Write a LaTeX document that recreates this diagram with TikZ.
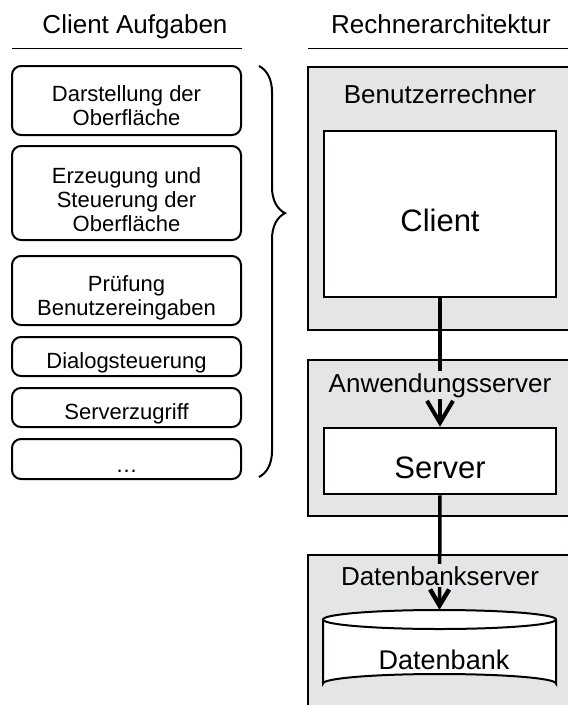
\documentclass[tikz,border=0pt]{standalone}
\usepackage{fontspec}
\setmainfont{Liberation Sans}
\usetikzlibrary{arrows.meta,decorations.pathreplacing}
\definecolor{boxgray}{RGB}{228,229,231}
\begin{document}
\begin{tikzpicture}[x=1pt,y=-1pt,
  task/.style={draw, line width=2pt, rounded corners=9pt, minimum width=229pt, inner sep=0pt},
  tasktext/.style={inner sep=0pt, align=center, font=\fontsize{22}{24}\selectfont},
  grp/.style={draw, line width=1.8pt, fill=boxgray, inner sep=0pt, anchor=north west, minimum width=290pt},
  unit/.style={draw, line width=2.5pt, fill=white, inner sep=0pt, font=\fontsize{31}{34}\selectfont, text height=34pt, text depth=0pt},
  grplbl/.style={fill=boxgray, inner sep=2pt, anchor=base, font=\fontsize{26}{28}\selectfont},
  title/.style={anchor=base, inner sep=0pt, font=\fontsize{26}{28}\selectfont},
  conn/.style={line width=3.5pt},
  rule/.style={line width=1.5pt},
]
\useasboundingbox (0,0) rectangle (568,705);
\clip (0,0) rectangle (568,705);

% titles
\node[title] (lefttitle) at (135,33) {Client Aufgaben};
\node[title] (righttitle) at (441,33) {Rechnerarchitektur};
\coordinate (ula) at (12,48.5);
\coordinate (ulb) at (242,48.5);
\coordinate (ura) at (308,48.5);
\coordinate (urb) at (575,48.5);
\draw[rule] (ula) -- (ulb);
\draw[rule] (ura) -- (urb);

% client tasks
\node[task, minimum height=69pt] (t1) at (126.5,100.5) {};
\node[task, minimum height=94pt] (t2) at (126.5,193) {};
\node[task, minimum height=69pt] (t3) at (126.5,290.5) {};
\node[task, minimum height=39pt] (t4) at (126.5,356.5) {};
\node[task, minimum height=39pt] (t5) at (126.5,407.5) {};
\node[task, minimum height=40pt] (t6) at (126.5,459) {};
\node[tasktext] (t1txt) at ([yshift=-8.5pt]t1.center) {\strut Darstellung der\\\strut Oberfläche};
\node[tasktext] (t2txt) at ([yshift=-9.5pt]t2.center) {\strut Erzeugung und\\\strut Steuerung der\\\strut Oberfläche};
\node[tasktext] (t3txt) at ([yshift=-8.5pt]t3.center) {\strut Prüfung\\\strut Benutzereingaben};
\node[tasktext] (t4txt) at ([yshift=-7pt]t4.center) {\strut Dialogsteuerung};
\node[tasktext] (t5txt) at ([yshift=-7.5pt]t5.center) {\strut Serverzugriff};
\node[tasktext] (t6txt) at ([yshift=-8.5pt]t6.center) {\strut \dots};

% brace
\coordinate (bra) at (259,66);
\coordinate (brb) at (259,477);
\draw[line width=2pt, decorate, decoration={brace, amplitude=26pt, aspect=0.358}] (bra) -- (brb);

% architecture groups
\node[grp, minimum height=263pt] (benutzer) at (307,66) {};
\node[grp, minimum height=156pt] (anwend) at (307,359) {};
\node[grp, minimum height=170pt] (dbserver) at (307,554) {};

\node[unit, minimum width=232pt, minimum height=166pt] (client) at (440,214) {Client};
\node[unit, minimum width=232pt, minimum height=66pt] (server) at (440,461) {Server};

% database cylinder
\node[inner sep=0pt, minimum width=233pt, minimum height=83pt] (db) at (439.5,651.5) {};
\fill[white] (323,619.5) -- (323,683.5) arc[start angle=180, end angle=0, x radius=116.5pt, y radius=9.5pt] -- (556,619.5) arc[start angle=0, end angle=180, x radius=116.5pt, y radius=9.5pt] -- cycle;
\draw[line width=2pt] (323,619.5) -- (323,683.5) arc[start angle=180, end angle=0, x radius=116.5pt, y radius=9.5pt] -- (556,619.5);
\draw[line width=2pt] (439.5,619.5) ellipse[x radius=116.5pt, y radius=9.5pt];
\node[anchor=base, inner sep=0pt, font=\fontsize{27}{30}\selectfont] (dbtxt) at (444,669) {Datenbank};

% connectors
\draw[conn, -{Straight Barb[length=22pt, width=26pt, line width=4pt]}] (client.south) -- (server.north);
\draw[conn, -{Straight Barb[length=16pt, width=19pt, line width=4.5pt]}] (server.south) -- (db.north);

% group labels
\node[grplbl] (benlbl) at (440,103) {Benutzerrechner};
\node[grplbl] (anwlbl) at (440,392) {Anwendungsserver};
\node[grplbl] (dblbl) at (440,585) {Datenbankserver};
\end{tikzpicture}
\end{document}
